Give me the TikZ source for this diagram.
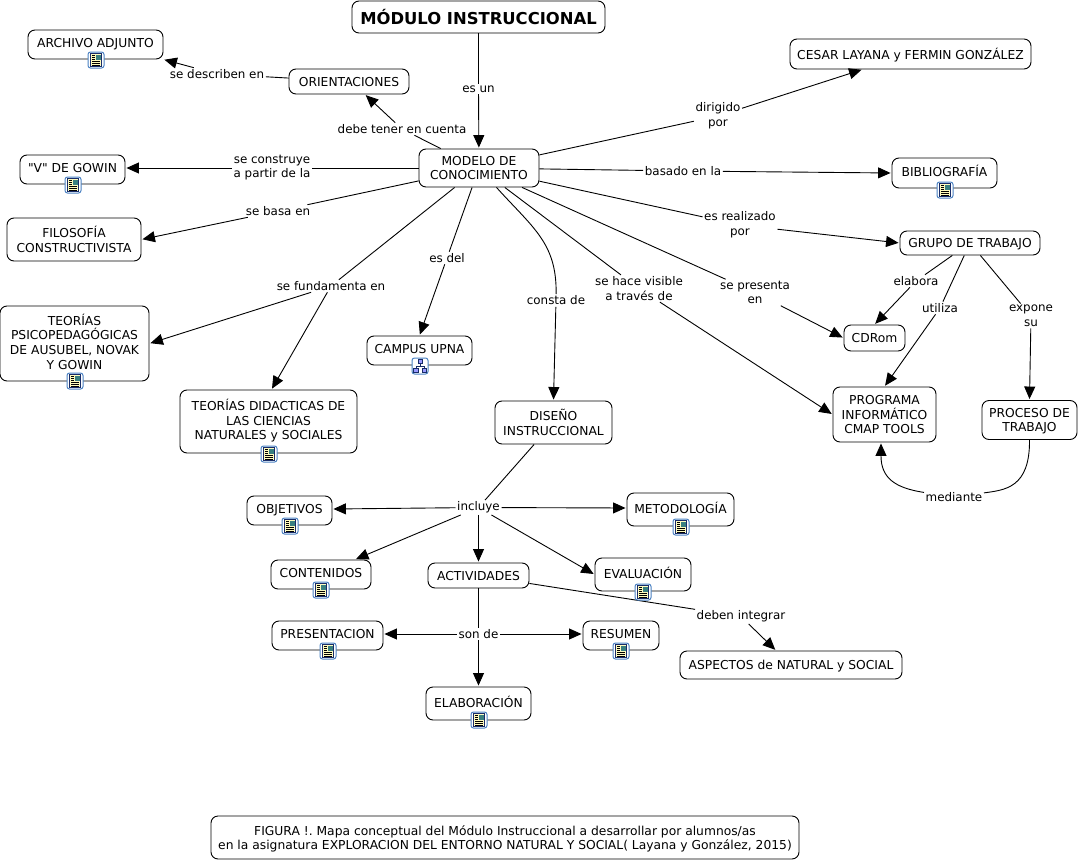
\documentclass[tikz,border=0pt]{standalone}
\usepackage{fontspec}
\setmainfont[Ligatures=TeXOff]{DejaVu Sans}
\usetikzlibrary{calc}
\usetikzlibrary{arrows.meta}

\definecolor{azulico}{RGB}{75,130,195}
\definecolor{marino}{RGB}{25,45,105}

\frenchspacing

\tikzset{
    concepto/.style = {draw, rounded corners=7pt, line width=0.9pt, align=center, inner sep=1pt,
        text depth=-1pt, font=\fontsize{12.3}{14.6}\selectfont},
    conicono/.style = {concepto, text depth=4pt},
    enlace/.style = {align=center, inner sep=1.5pt, font=\fontsize{11.9}{14.6}\selectfont},
    linea/.style = {line width=0.9pt},
    flecha/.style = {line width=0.9pt, -{Triangle[length=12.5pt,width=11pt]}, shorten >=1pt},
    icodoc/.pic = {
        \draw[azulico, fill=white, rounded corners=2.5pt, line width=1pt] (-8,-8) rectangle (8,8);
        \draw[marino, fill=yellow!25, line width=0.7pt] (-5.5,-6.5) rectangle (5.5,6.5);
        \fill[teal!55!gray] (0,-5.5) rectangle (4.5,-0.5);
        \foreach \ii in {-4.5,-2.5,-0.5}
            {\draw[black, line width=0.7pt] (-4,\ii) to (-1,\ii);}
        \foreach \ii in {1.5,3.5,5}
            {\draw[black, line width=0.7pt] (-4,\ii) to (4,\ii);}
    },
    icored/.pic = {
        \draw[azulico, fill=white, rounded corners=2.5pt, line width=1pt] (-8,-8) rectangle (8,8);
        \draw[marino, line width=0.7pt] (0,-4) to (0,0) (-4,4) to (-4,0) to (4,0) to (4,4);
        \draw[marino, fill=blue!40, line width=0.6pt] (-2,-6.5) rectangle (2,-3);
        \draw[marino, fill=blue!40, line width=0.6pt] (-6.5,2.5) rectangle (-2,6);
        \draw[marino, fill=blue!40, line width=0.6pt] (2,2.5) rectangle (6.5,6);
    }
}

\begin{document}
\begin{tikzpicture}[x=1pt, y=-1pt]
    \useasboundingbox (0,0) rectangle (1080,862);

    % conceptos
    \node (titulo) at (478.5,17) [concepto, minimum width=253pt, minimum height=32pt, font=\fontsize{16.4}{18}\selectfont\bfseries] {MÓDULO INSTRUCCIONAL};
    \node (modelo) at (479,168) [concepto, minimum width=120pt, minimum height=38pt] {MODELO DE\\CONOCIMIENTO};
    \node (archivo) at (95.5,44.5) [conicono, minimum width=135pt, minimum height=29pt] {ARCHIVO ADJUNTO};
    \node (orienta) at (349,81.5) [concepto, minimum width=120pt, minimum height=25pt] {ORIENTACIONES};
    \node (cesar) at (910.5,54) [concepto, minimum width=241pt, minimum height=30pt] {CESAR LAYANA y FERMIN GONZÁLEZ};
    \node (gowin) at (72.5,169.5) [conicono, minimum width=105pt, minimum height=29pt] {"V" DE GOWIN};
    \node (biblio) at (944.5,173) [conicono, minimum width=105pt, minimum height=30pt] {BIBLIOGRAFÍA};
    \node (filosofia) at (74,239.5) [concepto, minimum width=134pt, minimum height=43pt] {FILOSOFÍA\\CONSTRUCTIVISTA};
    \node (grupo) at (970,243) [concepto, minimum width=140pt, minimum height=24pt] {GRUPO DE TRABAJO};
    \node (psico) at (74.5,343.5) [conicono, minimum width=149pt, minimum height=75pt] {TEORÍAS\\PSICOPEDAGÓGICAS\\DE AUSUBEL, NOVAK\\Y GOWIN};
    \node (didac) at (268.5,421.5) [conicono, minimum width=177pt, minimum height=63pt] {TEORÍAS DIDACTICAS DE\\LAS CIENCIAS\\NATURALES y SOCIALES};
    \node (campus) at (419.5,350.5) [conicono, minimum width=105pt, minimum height=29pt] {CAMPUS UPNA};
    \node (cdrom) at (874.5,338) [concepto, minimum width=61pt, minimum height=26pt] {CDRom};
    \node (programa) at (884.5,414.5) [concepto, minimum width=103pt, minimum height=55pt] {PROGRAMA\\INFORMÁTICO\\CMAP TOOLS};
    \node (proceso) at (1029.5,420) [concepto, minimum width=95pt, minimum height=39pt] {PROCESO DE\\TRABAJO};
    \node (diseno) at (553.5,422.5) [concepto, minimum width=117pt, minimum height=43pt] {DISEÑO\\INSTRUCCIONAL};
    \node (objetivos) at (289.5,510.5) [conicono, minimum width=85pt, minimum height=29pt] {OBJETIVOS};
    \node (metodo) at (680.5,509.5) [conicono, minimum width=107pt, minimum height=33pt] {METODOLOGÍA};
    \node (contenidos) at (321,574.5) [conicono, minimum width=100pt, minimum height=29pt] {CONTENIDOS};
    \node (activ) at (478.5,575.5) [concepto, minimum width=101pt, minimum height=25pt] {ACTIVIDADES};
    \node (evalua) at (643,574.5) [conicono, minimum width=96pt, minimum height=33pt] {EVALUACIÓN};
    \node (present) at (327.5,635.5) [conicono, minimum width=111pt, minimum height=29pt] {PRESENTACION};
    \node (resumen) at (621,635.5) [conicono, minimum width=76pt, minimum height=29pt] {RESUMEN};
    \node (aspectos) at (791,665) [concepto, minimum width=222pt, minimum height=28pt] {ASPECTOS de NATURAL y SOCIAL};
    \node (elabora) at (478.5,703.5) [conicono, minimum width=105pt, minimum height=33pt] {ELABORACIÓN};
    \node (figura) at (505,837.5) [concepto, minimum width=588pt, minimum height=43pt] {FIGURA !. Mapa conceptual del Módulo Instruccional a desarrollar por alumnos/as\\en la asignatura EXPLORACION DEL ENTORNO NATURAL Y SOCIAL( Layana y González, 2015)};

    % frases de enlace
    \node (esun) at (478.5,89) [enlace] {es un};
    \node (debe) at (402,129) [enlace] {debe tener en cuenta};
    \node (describen) at (217,74) [enlace] {se describen en};
    \node (construye) at (272,168) [enlace, text depth=3pt] {se construye\\a partir de la};
    \node (basa) at (278,211) [enlace] {se basa en};
    \node (fundamenta) at (331,286) [enlace] {se fundamenta en};
    \node (esdel) at (447,258) [enlace] {es del};
    \node (consta) at (556,300.5) [enlace] {consta de};
    \node (visible) at (639,288.5) [enlace] {se hace visible\\a través de};
    \node (presenta) at (755,292.5) [enlace] {se presenta\\en};
    \node (realizado) at (740,225) [enlace] {es realizado\\por};
    \node (basado) at (683,171) [enlace] {basado en la};
    \node (dirigido) at (718,116) [enlace] {dirigido\\por};
    \node (elaboratxt) at (916,281) [enlace] {elabora};
    \node (utiliza) at (940,308) [enlace] {utiliza};
    \node (expone) at (1031,316) [enlace] {expone\\su};
    \node (mediante) at (954,497) [enlace] {mediante};
    \node (incluye) at (478.5,507.5) [enlace] {incluye};
    \node (sonde) at (478.5,634) [enlace] {son de};
    \node (integrar) at (741,616.5) [enlace] {deben integrar};

    % conectores
    \draw[linea] (titulo) to (esun);
    \draw[flecha] (esun) to (modelo);
    \draw[linea] (modelo) to (debe);
    \draw[flecha] (debe) to ([xshift=16pt]orienta.south);
    \draw[linea] (orienta) to (describen);
    \draw[flecha] (describen) to (archivo.south east);
    \draw[linea] (modelo) to (construye);
    \draw[flecha] (construye) to ([yshift=1.5pt]gowin.east);
    \draw[linea] (modelo) to (basa);
    \draw[flecha] (basa) to (filosofia.east);
    \draw[linea] (modelo) to (fundamenta);
    \draw[flecha] (fundamenta) to (psico.east);
    \draw[flecha] (fundamenta) to ([xshift=3pt]didac.north);
    \draw[linea] (modelo) to (esdel);
    \draw[flecha] (esdel) to (campus.north);
    \draw[linea] (modelo) .. controls (533,228) and (557,243) .. (consta);
    \draw[flecha] (consta) to (diseno.north);
    \draw[linea] (modelo) to (visible);
    \draw[flecha] (visible) to (programa.west);
    \draw[linea] (modelo) to (presenta);
    \draw[flecha] (presenta) to (cdrom.west);
    \draw[linea] (modelo) to (realizado);
    \draw[flecha] (realizado) to (grupo.west);
    \draw[linea] (modelo) to (basado);
    \draw[flecha] (basado) to (biblio.west);
    \draw[linea] (modelo) to (dirigido);
    \draw[flecha] (dirigido) to ([xshift=-48pt]cesar.south);

    \draw[linea] (grupo) to (elaboratxt);
    \draw[flecha] (elaboratxt) to (cdrom.north);
    \draw[linea] (grupo) to (utiliza);
    \draw[flecha] (utiliza) to (programa.north);
    \draw[linea] (grupo) to (expone);
    \draw[flecha] (expone) to (proceso.north);
    \draw[linea] (proceso.south) .. controls (1030,488) and (1005,490) .. (mediante);
    \draw[flecha] (mediante) .. controls (895,488) and (881,478) .. ([xshift=-3.5pt]programa.south);

    \draw[linea] (diseno) to (incluye);
    \draw[flecha] (incluye) to ([yshift=1.5pt]objetivos.east);
    \draw[flecha] (incluye) to ([yshift=1.5pt]metodo.west);
    \draw[flecha] (incluye) to ([xshift=34pt]contenidos.north);
    \draw[flecha] (incluye) to (activ.north);
    \draw[flecha] (incluye) to (evalua.west);

    \draw[linea] (activ) to (sonde);
    \draw[flecha] (sonde) to ([yshift=1.5pt]present.east);
    \draw[flecha] (sonde) to ([yshift=1.5pt]resumen.west);
    \draw[flecha] (sonde) to (elabora.north);
    \draw[linea] (activ) to (integrar);
    \draw[flecha] (integrar) to ([xshift=-15pt]aspectos.north);

    % iconos
    \foreach \ix/\iy in {96/60, 73/185, 945/190, 75/381, 269/454, 290/526, 681/527, 321/590, 643/592, 328/651, 621/651, 479/720}
        {\pic at (\ix,\iy) {icodoc};}
    \pic at (420,366) {icored};

\end{tikzpicture}
\end{document}
